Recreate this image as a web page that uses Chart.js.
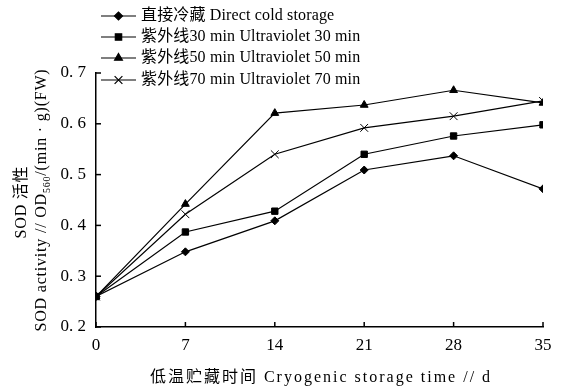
<!DOCTYPE html>
<html>
<head>
<meta charset="utf-8">
<script src="https://cdn.jsdelivr.net/npm/chart.js@4"></script>
<style>
  html, body { margin: 0; padding: 0; background: #fff; }
  #c { display: block; }
</style>
</head>
<body>
<canvas id="c" width="563" height="392"></canvas>
<script>
// storage days
const days = [0, 7, 14, 21, 28, 35];
const yTicks = [0.2, 0.3, 0.4, 0.5, 0.6, 0.7];

// SOD activity
const directCold = [0.26, 0.348, 0.409, 0.509, 0.537, 0.472];
const uv30 = [0.26, 0.387, 0.428, 0.540, 0.576, 0.598];
const uv50 = [0.26, 0.442, 0.621, 0.637, 0.666, 0.641];
const uv70 = [0.26, 0.422, 0.540, 0.592, 0.615, 0.645];

const seriesLabels = [
  "直接冷藏 Direct cold storage",
  "紫外线30 min Ultraviolet 30 min",
  "紫外线50 min Ultraviolet 50 min",
  "紫外线70 min Ultraviolet 70 min"
];

const FONT = '"Liberation Serif", "Noto Sans CJK SC", serif';

function makeSet(label, vals, style, radius) {
  return {
    label: label,
    data: days.map((d, i) => ({ x: d, y: vals[i] })),
    borderColor: '#000',
    backgroundColor: '#000',
    borderWidth: 1.2,
    pointStyle: style,
    pointRadius: radius,
    pointBorderWidth: 1,
    pointBackgroundColor: '#000',
    pointBorderColor: '#000',
    tension: 0
  };
}

// legend + inward ticks + axis titles
const decor = {
  id: 'decor',
  afterDraw(chart) {
    const ctx = chart.ctx;
    const xs = chart.scales.x, ys = chart.scales.y;
    const area = chart.chartArea;
    ctx.save();
    ctx.strokeStyle = '#000';
    ctx.lineWidth = 1.5;
    // inward ticks
    days.forEach(d => {
      const px = xs.getPixelForValue(d);
      ctx.beginPath();
      ctx.moveTo(px, area.bottom);
      ctx.lineTo(px, area.bottom - 5);
      ctx.stroke();
    });
    yTicks.forEach(v => {
      const py = ys.getPixelForValue(v);
      ctx.beginPath();
      ctx.moveTo(area.left, py);
      ctx.lineTo(area.left + 5, py);
      ctx.stroke();
    });

    // legend
    ctx.fillStyle = '#000';
    ctx.font = '16px ' + FONT;
    ctx.textBaseline = 'middle';
    ctx.textAlign = 'left';
    ctx.letterSpacing = '0.15px';
    const rowY = [16, 37, 58, 80];
    chart.data.datasets.forEach((ds, i) => {
      const y = rowY[i];
      ctx.lineWidth = 1.2;
      ctx.beginPath();
      ctx.moveTo(101, y);
      ctx.lineTo(136, y);
      ctx.stroke();
      Chart.helpers.drawPoint(ctx, {
        pointStyle: ds.pointStyle, radius: ds.pointRadius, borderWidth: 1
      }, 118.5, y);
      ctx.fillText(ds.label, 141, y);
    });

    // x title
    ctx.textAlign = 'center';
    ctx.letterSpacing = '2px';
    ctx.fillText('低温贮藏时间 Cryogenic storage time // d', 321, 378);

    // y title (rotated, two lines, with subscript)
    const cy = (area.top + area.bottom) / 2;
    ctx.translate(22, cy);
    ctx.rotate(-Math.PI / 2);
    ctx.letterSpacing = '0.8px';
    ctx.fillText('SOD 活性', -2, 0);
    const partA = 'SOD activity // OD';
    const sub = '560';
    const partB = '/(min · g)(FW)';
    ctx.font = '16px ' + FONT;
    const wA = ctx.measureText(partA).width;
    const wB = ctx.measureText(partB).width;
    ctx.font = '10px ' + FONT;
    const wS = ctx.measureText(sub).width;
    let x0 = -(wA + wS + wB) / 2;
    ctx.textAlign = 'left';
    ctx.font = '16px ' + FONT;
    ctx.fillText(partA, x0, 20);
    ctx.font = '10px ' + FONT;
    ctx.fillText(sub, x0 + wA, 25);
    ctx.font = '16px ' + FONT;
    ctx.fillText(partB, x0 + wA + wS, 20);
    ctx.restore();
  }
};

new Chart(document.getElementById('c'), {
  type: 'line',
  data: {
    datasets: [
      makeSet(seriesLabels[0], directCold, 'rectRot', 4),
      makeSet(seriesLabels[1], uv30, 'rect', 4.5),
      makeSet(seriesLabels[2], uv50, 'triangle', 4.5),
      makeSet(seriesLabels[3], uv70, 'crossRot', 5.5)
    ]
  },
  options: {
    responsive: false,
    animation: false,
    layout: { padding: { left: 46, top: 73, right: 20, bottom: 25 } },
    plugins: { legend: { display: false }, tooltip: { enabled: false } },
    scales: {
      x: {
        type: 'linear',
        min: 0, max: 35,
        afterFit(s) { s.height = 40; },
        afterBuildTicks(s) { s.ticks = days.map(v => ({ value: v })); },
        grid: { display: false, drawTicks: false },
        border: { display: true, color: '#000', width: 1.5 },
        ticks: { color: '#000', padding: 8, font: { family: FONT, size: 17 } }
      },
      y: {
        min: 0.2, max: 0.7,
        afterFit(s) { s.width = 50; },
        afterBuildTicks(s) { s.ticks = yTicks.map(v => ({ value: v })); },
        grid: { display: false, drawTicks: false },
        border: { display: true, color: '#000', width: 1.5 },
        ticks: {
          color: '#000', padding: 10, font: { family: FONT, size: 17 },
          callback: v => v.toFixed(1).replace('.', '. ')
        }
      }
    }
  },
  plugins: [decor]
});
</script>
</body>
</html>
